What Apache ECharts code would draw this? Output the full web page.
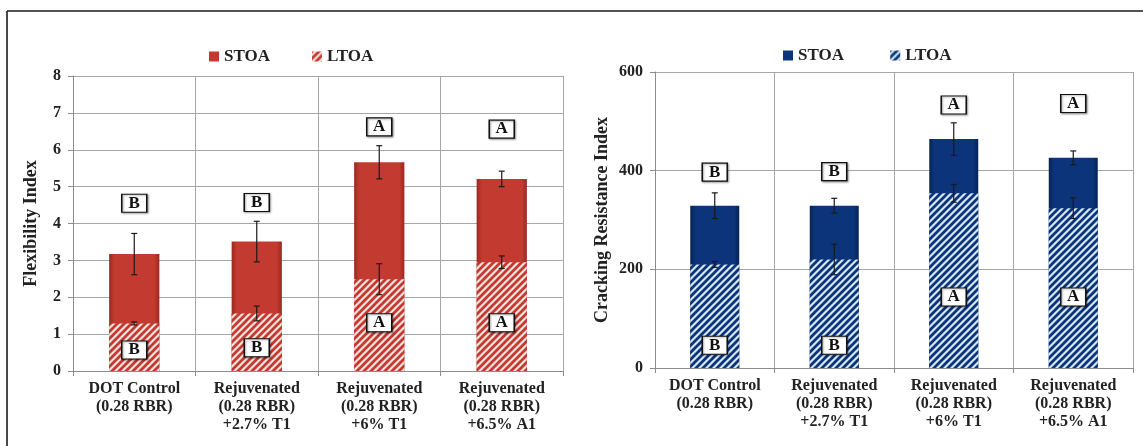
<!DOCTYPE html>
<html><head><meta charset="utf-8">
<script src="https://cdn.jsdelivr.net/npm/echarts@6/dist/echarts.min.js"></script>
<style>html,body{margin:0;padding:0;background:#fff}#c{width:1143px;height:446px}</style>
</head><body><div id="c"></div>
<script>
// ---------- DATA ----------
const categories = ['DOT Control\n(0.28 RBR)', 'Rejuvenated\n(0.28 RBR)\n+2.7% T1', 'Rejuvenated\n(0.28 RBR)\n+6% T1', 'Rejuvenated\n(0.28 RBR)\n+6.5% A1'];
const seriesNames = ['STOA', 'LTOA'];
// Flexibility Index (left)
const fiSTOA = [3.17, 3.51, 5.66, 5.21];
const fiSTOAErr = [0.56, 0.55, 0.45, 0.21];
const fiLTOA = [1.29, 1.56, 2.49, 2.95];
const fiLTOAErr = [0.04, 0.20, 0.42, 0.17];
const fiTopLetters = ['B', 'B', 'A', 'A'];
const fiTopLetterY = [4.55, 4.57, 6.62, 6.56];
const fiLowLetters = ['B', 'B', 'A', 'A'];
const fiLowLetterY = [0.57, 0.63, 1.31, 1.31];
const fiTicks = [0, 1, 2, 3, 4, 5, 6, 7, 8];
// Cracking Resistance Index (right)
const crSTOA = [329, 329, 464, 426];
const crSTOAErr = [26, 15, 33, 14];
const crLTOA = [210, 220, 354, 324];
const crLTOAErr = [6, 31, 18, 21];
const crTopLetters = ['B', 'B', 'A', 'A'];
const crTopLetterY = [397, 398, 533, 536];
const crLowLetters = ['B', 'B', 'A', 'A'];
const crLowLetterY = [46, 46, 144, 144];
const crTicks = [0, 200, 400, 600];

// ---------- STYLE ----------
const FONT = "'Liberation Serif','Times New Roman',serif";
function hatch(bg, fg) {
  const s = 7;
  const c = document.createElement('canvas');
  c.width = s; c.height = s;
  const g = c.getContext('2d');
  g.fillStyle = bg; g.fillRect(0, 0, s, s);
  g.strokeStyle = fg; g.lineWidth = 2.8;
  g.beginPath();
  g.moveTo(-2, s + 2); g.lineTo(s + 2, -2);          // x+y = s
  g.moveTo(-3, 3); g.lineTo(3, -3);                  // x+y = 0
  g.moveTo(s - 3, s + 3); g.lineTo(s + 3, s - 3);    // x+y = 2s
  g.stroke();
  return { image: c, repeat: 'repeat' };
}
function grad(edge, mid) {
  return { type: 'linear', x: 0, y: 0, x2: 1, y2: 0, colorStops: [
    { offset: 0, color: edge }, { offset: 0.1, color: mid }, { offset: 0.9, color: mid }, { offset: 1, color: edge }] };
}
const redSolid = grad('#9a2820', '#c23a30');
const redHatch = hatch('#fbe3df', '#c23a30');
const blueSolid = grad('#062353', '#0b347a');
const blueHatch = hatch('#d6e8f7', '#0b347a');

function xAxis(gi) {
  return {
    type: 'category', gridIndex: gi, data: categories,
    axisLine: { lineStyle: { color: '#8c8c8c', width: 1 } },
    axisTick: { show: true, length: 5, lineStyle: { color: '#8c8c8c' } },
    splitLine: { show: true, lineStyle: { color: '#a6a6a6', width: 1 } },
    axisLabel: { interval: 0, margin: 9, color: '#222', fontFamily: FONT, fontWeight: 'bold', fontSize: 16, lineHeight: 18 }
  };
}
function yAxis(gi, ticks, name, gap) {
  return {
    type: 'value', gridIndex: gi, min: ticks[0], max: ticks[ticks.length - 1], interval: ticks[1] - ticks[0],
    name: name, nameLocation: 'middle', nameRotate: 90, nameGap: gap,
    nameTextStyle: { color: '#222', fontFamily: FONT, fontWeight: 'bold', fontSize: 18 },
    axisLine: { show: true, lineStyle: { color: '#8c8c8c' } },
    axisTick: { show: true, length: 5, lineStyle: { color: '#8c8c8c' } },
    splitLine: { show: true, lineStyle: { color: '#a6a6a6', width: 1 } },
    axisLabel: { margin: 12, color: '#222', fontFamily: FONT, fontWeight: 'bold', fontSize: 16 }
  };
}
function bar(name, gi, vals, color, z) {
  return { type: 'bar', name: name, xAxisIndex: gi, yAxisIndex: gi, data: vals, barWidth: '41%', barGap: '-100%',
    itemStyle: { color: color }, z: z, silent: true };
}
function err(gi, vals, errs) {
  return { type: 'custom', xAxisIndex: gi, yAxisIndex: gi, z: 5, silent: true,
    data: vals.map((v, i) => [i, v, errs[i]]),
    renderItem: function (params, api) {
      const top = api.coord([api.value(0), api.value(1) + api.value(2)]);
      const bot = api.coord([api.value(0), api.value(1) - api.value(2)]);
      const x = top[0], w = 3;
      const st = { stroke: '#1a1a1a', lineWidth: 1.2 };
      return { type: 'group', children: [
        { type: 'line', shape: { x1: x, y1: top[1], x2: x, y2: bot[1] }, style: st },
        { type: 'line', shape: { x1: x - w, y1: top[1], x2: x + w, y2: top[1] }, style: st },
        { type: 'line', shape: { x1: x - w, y1: bot[1], x2: x + w, y2: bot[1] }, style: st }
      ] };
    } };
}
function letters(gi, ys, ls) {
  return { type: 'scatter', xAxisIndex: gi, yAxisIndex: gi, z: 6, silent: true,
    data: ys.map((y, i) => [i, y, ls[i]]), symbol: 'rect', symbolSize: [25, 18],
    itemStyle: { color: '#fff', borderColor: '#111', borderWidth: 1.3, shadowColor: 'rgba(0,0,0,0.35)', shadowBlur: 2, shadowOffsetX: 1, shadowOffsetY: 1, opacity: 1 },
    label: { show: true, position: 'inside', formatter: p => p.value[2], color: '#111', fontFamily: FONT, fontWeight: 'bold', fontSize: 17 } };
}
const legendText = { color: '#222', fontFamily: FONT, fontWeight: 'bold', fontSize: 17 };

const option = {
  animation: false,
  backgroundColor: '#fff',
  grid: [
    { left: 73, top: 76, width: 490, height: 295 },
    { left: 655, top: 72, width: 478, height: 296 }
  ],
  legend: [
    { data: [{ name: 'STOA', itemStyle: { color: '#c23a30' } }, { name: 'LTOA', itemStyle: { color: redHatch } }], icon: 'rect', left: 204, top: 43, itemWidth: 10, itemHeight: 10, itemGap: 42, textStyle: legendText, selectedMode: false },
  ],
  xAxis: [xAxis(0), xAxis(1)],
  yAxis: [yAxis(0, fiTicks, 'Flexibility Index', 33), yAxis(1, crTicks, 'Cracking Resistance Index', 44)],
  series: [
    bar(seriesNames[0], 0, fiSTOA, redSolid, 2),
    bar(seriesNames[1], 0, fiLTOA, redHatch, 3),
    err(0, fiSTOA, fiSTOAErr), err(0, fiLTOA, fiLTOAErr),
    letters(0, fiTopLetterY, fiTopLetters), letters(0, fiLowLetterY, fiLowLetters),
    bar('STOA ', 1, crSTOA, blueSolid, 2),
    bar('LTOA ', 1, crLTOA, blueHatch, 3),
    err(1, crSTOA, crSTOAErr), err(1, crLTOA, crLTOAErr),
    letters(1, crTopLetterY, crTopLetters), letters(1, crLowLetterY, crLowLetters)
  ],
  graphic: [
    { type: 'line', shape: { x1: 7, y1: 11, x2: 1143, y2: 11 }, style: { stroke: '#1a1a1a', lineWidth: 1.6 } },
    { type: 'line', shape: { x1: 7, y1: 11, x2: 7, y2: 446 }, style: { stroke: '#1a1a1a', lineWidth: 1.6 } }
  ]
};
option.legend.push({ data: [{ name: 'STOA ', itemStyle: { color: '#0b347a' } }, { name: 'LTOA ', itemStyle: { color: blueHatch } }], icon: 'rect', left: 778, top: 42, itemWidth: 10, itemHeight: 10, itemGap: 42, textStyle: legendText, selectedMode: false });
const chart = echarts.init(document.getElementById('c'), null, { renderer: 'canvas' });
chart.setOption(option);
</script></body></html>
